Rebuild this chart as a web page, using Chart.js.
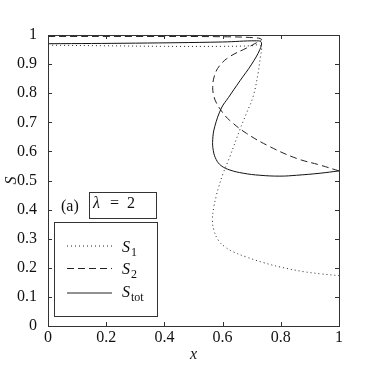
<!DOCTYPE html>
<html>
<head>
<meta charset="utf-8">
<script src="https://cdn.jsdelivr.net/npm/chart.js@4"></script>
<style>
  body { margin: 0; background: #fff; }
  #wrap { width: 374px; height: 376px; }
</style>
</head>
<body>
<div id="wrap"><canvas id="myChart" width="374" height="376"></canvas></div>
<script>
// ticks
const xTicks = [0, 0.2, 0.4, 0.6, 0.8, 1];
const yTicks = [0, 0.1, 0.2, 0.3, 0.4, 0.5, 0.6, 0.7, 0.8, 0.9, 1];

// S1 (dotted)
const s1X = [0, 0.2, 0.4, 0.6, 0.7, 0.726, 0.734, 0.73, 0.722, 0.705, 0.682, 0.659, 0.625, 0.602, 0.585, 0.579, 0.570, 0.565, 0.570, 0.585, 0.608, 0.636, 0.682, 0.740, 0.797, 0.877, 0.94, 1.0];
const s1Y = [0.965, 0.963, 0.961, 0.961, 0.963, 0.966, 0.955, 0.926, 0.869, 0.789, 0.731, 0.674, 0.582, 0.525, 0.473, 0.450, 0.410, 0.364, 0.330, 0.295, 0.272, 0.255, 0.237, 0.218, 0.203, 0.187, 0.179, 0.173];

// S2 (dashed)
const s2X = [0, 0.3, 0.6, 0.717, 0.734, 0.71, 0.682, 0.625, 0.590, 0.572, 0.566, 0.57, 0.579, 0.602, 0.625, 0.682, 0.763, 0.854, 0.935, 1.0];
const s2Y = [0.995, 0.995, 0.994, 0.99, 0.984, 0.97, 0.955, 0.926, 0.895, 0.86, 0.82, 0.79, 0.766, 0.731, 0.706, 0.662, 0.616, 0.576, 0.553, 0.533];

// S_tot (solid)
const sTotX = [0, 0.3, 0.6, 0.717, 0.733, 0.728, 0.70, 0.66, 0.62, 0.596, 0.573, 0.566, 0.568, 0.578, 0.595, 0.625, 0.671, 0.728, 0.797, 0.854, 0.935, 1.0];
const sTotY = [0.970, 0.972, 0.976, 0.980, 0.975, 0.95, 0.90, 0.843, 0.785, 0.749, 0.685, 0.640, 0.603, 0.572, 0.551, 0.536, 0.525, 0.518, 0.515, 0.518, 0.525, 0.533];

function pts(xs, ys) {
    let out = [];
    for (let i = 0; i < xs.length; i++) {
        out.push({ x: xs[i], y: ys[i] });
    }
    return out;
}

const serif = '"Liberation Serif", "DejaVu Serif", serif';

// frame, inward ticks, legend and labels
const extras = {
    id: 'extras',
    afterDraw(chart) {
        const ctx = chart.ctx;
        const a = chart.chartArea;
        const sx = chart.scales.x, sy = chart.scales.y;
        ctx.save();
        ctx.strokeStyle = '#333';
        ctx.lineWidth = 1;
        ctx.strokeRect(a.left + 0.5, a.top + 0.5, a.right - a.left, a.bottom - a.top);
        ctx.beginPath();
        xTicks.forEach(v => {
            const px = Math.round(sx.getPixelForValue(v)) + 0.5;
            ctx.moveTo(px, a.bottom); ctx.lineTo(px, a.bottom - 4);
            ctx.moveTo(px, a.top); ctx.lineTo(px, a.top + 4);
        });
        yTicks.forEach(v => {
            const py = Math.round(sy.getPixelForValue(v)) + 0.5;
            ctx.moveTo(a.left, py); ctx.lineTo(a.left + 4, py);
            ctx.moveTo(a.right, py); ctx.lineTo(a.right - 4, py);
        });
        ctx.stroke();

        // lambda box
        ctx.strokeStyle = '#333';
        ctx.strokeRect(89.5, 192.5, 67, 26);
        ctx.fillStyle = '#111';
        ctx.font = '16px ' + serif;
        ctx.textBaseline = 'alphabetic';
        ctx.fillText('(a)', 61, 211);
        ctx.font = 'italic 16px ' + serif;
        ctx.fillText('λ', 93, 208);
        ctx.font = '16px ' + serif;
        ctx.fillText('=  2', 110, 208);

        // legend box
        ctx.fillStyle = '#fff';
        ctx.fillRect(54.5, 222.5, 103, 94);
        ctx.strokeRect(54.5, 222.5, 103, 94);
        const rows = [
            { y: 246, dash: [1, 3], sub: '1', base: 252 },
            { y: 268.5, dash: [7, 4], sub: '2', base: 274 },
            { y: 293, dash: [], sub: 'tot', base: 297 }
        ];
        rows.forEach(r => {
            ctx.beginPath();
            ctx.setLineDash(r.dash);
            ctx.strokeStyle = '#222';
            ctx.moveTo(67, r.y); ctx.lineTo(112, r.y);
            ctx.stroke();
            ctx.setLineDash([]);
            ctx.fillStyle = '#111';
            ctx.font = 'italic 16px ' + serif;
            ctx.fillText('S', 122, r.base);
            ctx.font = '12px ' + serif;
            ctx.fillText(r.sub, 131, r.base + 4);
        });
        ctx.restore();
    }
};

const ctx = document.getElementById('myChart').getContext('2d');
const myChart = new Chart(ctx, {
    type: 'scatter',
    data: {
        datasets: [
            { label: 'S1', data: pts(s1X, s1Y), borderColor: '#222', borderWidth: 1, borderDash: [1, 3], showLine: true, pointRadius: 0, tension: 0.4 },
            { label: 'S2', data: pts(s2X, s2Y), borderColor: '#222', borderWidth: 1, borderDash: [7, 4], showLine: true, pointRadius: 0, tension: 0.4 },
            { label: 'Stot', data: pts(sTotX, sTotY), borderColor: '#111', borderWidth: 1, showLine: true, pointRadius: 0, tension: 0.4 }
        ]
    },
    options: {
        responsive: false,
        animation: false,
        layout: { padding: { top: 35, right: 35, left: 0, bottom: 0 } },
        plugins: { legend: { display: false }, tooltip: { enabled: false } },
        scales: {
            x: {
                type: 'linear', min: 0, max: 1,
                afterBuildTicks: s => { s.ticks = xTicks.map(v => ({ value: v })); },
                afterFit: s => { s.height = 50; },
                grid: { display: false },
                border: { display: false },
                ticks: { color: '#111', font: { family: serif, size: 16 }, padding: -6, maxRotation: 0,
                    callback: v => String(v) },
                title: { display: true, text: 'x', color: '#111', font: { family: serif, size: 16, style: 'italic' }, padding: { top: 0, bottom: 12 } }
            },
            y: {
                type: 'linear', min: 0, max: 1,
                afterBuildTicks: s => { s.ticks = yTicks.map(v => ({ value: v })); },
                afterFit: s => { s.width = 48; },
                grid: { display: false },
                border: { display: false },
                ticks: { color: '#111', font: { family: serif, size: 16 }, padding: 3,
                    callback: v => String(v) },
                title: { display: true, text: 'S', color: '#111', font: { family: serif, size: 16, style: 'italic' }, padding: { top: 2, bottom: 0 } }
            }
        }
    },
    plugins: [extras]
});
</script>
</body>
</html>
